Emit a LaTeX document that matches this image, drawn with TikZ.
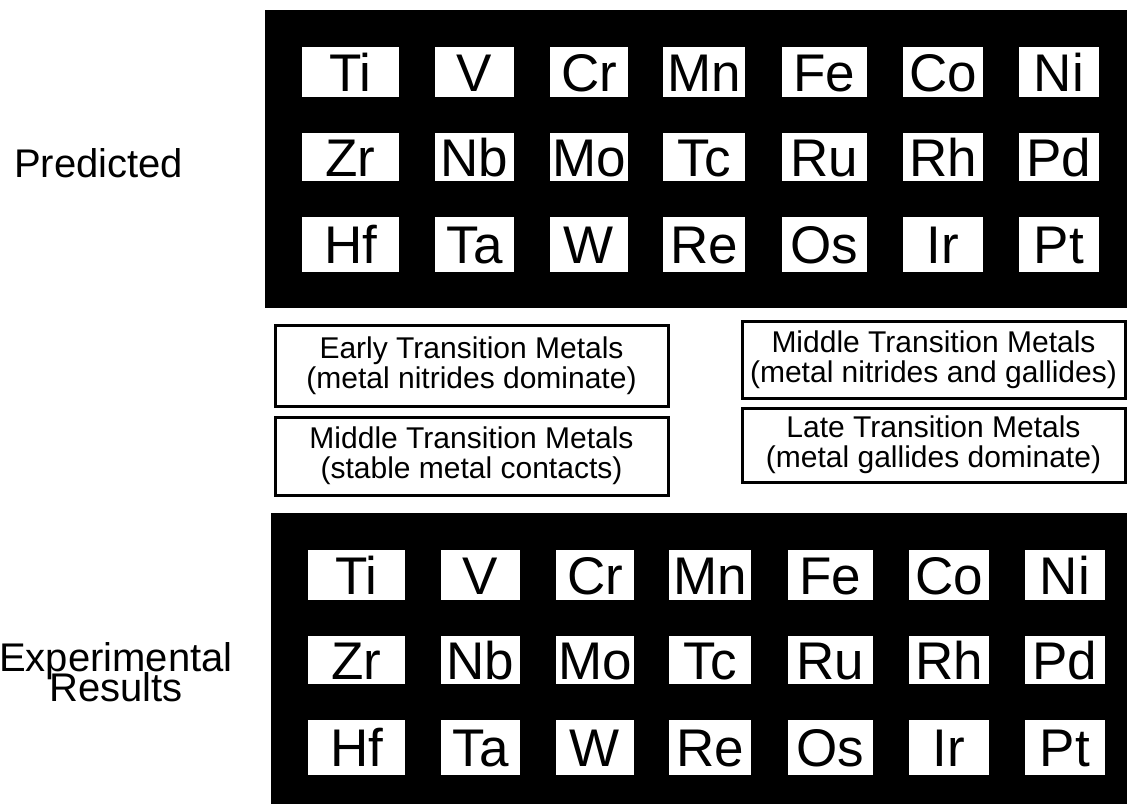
\documentclass[tikz,border=0pt]{standalone}
\usepackage{fontspec}
\setmainfont{Liberation Sans}
\usepackage{xcolor}
\usetikzlibrary{positioning}

\tikzset{
  elem/.style={fill=white, inner sep=0pt, text height=38pt, text depth=0pt, font=\fontsize{53}{53}\selectfont},
  notebox/.style={draw=black, line width=3pt, fill=white, inner sep=0pt, align=center, font=\fontsize{30}{30}\selectfont},
  sidelabel/.style={inner sep=0pt, align=center, font=\fontsize{40}{28}\selectfont}
}

\begin{document}
\begin{tikzpicture}[x=1pt, y=-1pt]
  \useasboundingbox (0,0) rectangle (1127,804);
  % 黑色面板
  \fill[black] (265,10) rectangle (1127,308);
  \fill[black] (271,513) rectangle (1127,804);
  % 元素格子
  \foreach \pn/\dx/\dy in {pr/0/0, ex/6/503}{
    \foreach \row/\ry/\rh/\syms in {1/72/50/{Ti,V,Cr,Mn,Fe,Co,Ni}, 2/157/48/{Zr,Nb,Mo,Tc,Ru,Rh,Pd}, 3/244/55/{Hf,Ta,W,Re,Os,Ir,Pt}}{
      \foreach \sym [count=\col] in \syms{
        \pgfmathsetmacro\cx{{350.5,474.5,589,704,824.5,943,1059}[\col-1]+\dx}
        \pgfmathsetmacro\cw{{97,79,78,82,85,80,80}[\col-1]}
        \node[elem, minimum width=\cw pt, minimum height=\rh pt] (\pn-\row-\col) at (\cx, \ry+\dy) {\sym};
      }
    }
  }
  % 说明框
  \node[notebox, minimum width=393pt, minimum height=81pt] (early) at (471.5,365.5) {Early Transition Metals\\(metal nitrides dominate)};
  \node[notebox, minimum width=393pt, minimum height=78pt] (midstable) at (471.5,456) {Middle Transition Metals\\(stable metal contacts)};
  \node[notebox, minimum width=383pt, minimum height=77pt] (midmix) at (933.5,359.5) {Middle Transition Metals\\(metal nitrides and gallides)};
  \node[notebox, minimum width=383pt, minimum height=74pt] (late) at (933.5,445) {Late Transition Metals\\(metal gallides dominate)};
  % 左侧文字
  \node[sidelabel, anchor=base] (pred) at (98.5,177) {Predicted};
  \node[sidelabel] (expres) at (116,672) {Experimental\\[-8pt]Results};
\end{tikzpicture}
\end{document}
